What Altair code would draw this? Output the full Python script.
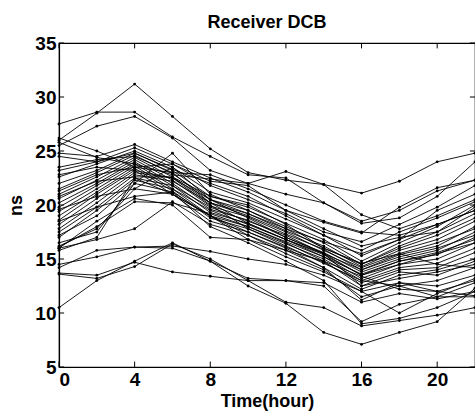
import altair as alt
import pandas as pd

hours = [0, 2, 4, 6, 8, 10, 12, 14, 16, 18, 20, 22]
x_ticks = [0, 4, 8, 12, 16, 20]
y_ticks = [5, 10, 15, 20, 25, 30, 35]

s01 = [26.0, 28.5, 31.2, 28.2, 25.2, 23.0, 22.3, 21.9, 21.1, 22.2, 24.0, 24.8]
s02 = [27.5, 28.6, 28.6, 26.3, 24.5, 22.8, 22.5, 20.2, 18.5, 19.5, 21.3, 22.3]
s03 = [25.5, 27.3, 28.2, 26.2, 23.2, 22.0, 21.0, 20.2, 18.3, 18.8, 20.8, 24.0]
s04 = [25.8, 24.4, 23.8, 22.8, 22.4, 22.0, 23.1, 21.9, 19.1, 17.8, 19.0, 20.5]
s05 = [26.2, 25.0, 23.5, 23.0, 22.8, 21.5, 20.0, 18.5, 17.5, 17.2, 18.2, 19.5]
s06 = [24.8, 24.5, 25.6, 24.0, 22.5, 21.2, 19.5, 18.4, 17.4, 19.8, 21.6, 22.3]
s07 = [23.2, 24.0, 25.3, 23.8, 21.8, 20.5, 19.2, 17.5, 16.6, 18.2, 19.8, 21.8]
s08 = [22.6, 23.8, 25.0, 23.5, 21.2, 20.2, 18.7, 17.2, 15.3, 16.8, 19.5, 21.0]
s09 = [22.0, 23.2, 24.8, 23.2, 20.8, 19.8, 18.3, 16.8, 14.8, 16.5, 18.0, 20.0]
s10 = [21.5, 23.0, 24.6, 22.9, 20.5, 19.5, 18.0, 16.5, 14.5, 16.2, 17.5, 19.2]
s11 = [21.0, 22.6, 24.4, 22.6, 20.2, 19.2, 17.6, 16.2, 14.3, 15.8, 16.8, 18.5]
s12 = [20.6, 22.3, 24.2, 22.3, 19.9, 18.9, 17.3, 15.9, 14.0, 15.4, 16.2, 18.0]
s13 = [20.2, 22.0, 24.0, 22.0, 19.6, 18.6, 17.0, 15.6, 13.8, 15.0, 15.8, 17.5]
s14 = [19.8, 21.8, 23.8, 21.8, 19.3, 18.3, 16.8, 15.4, 13.5, 14.8, 15.4, 17.0]
s15 = [19.4, 21.5, 23.6, 21.5, 19.0, 18.0, 16.6, 15.2, 13.2, 14.5, 15.0, 16.5]
s16 = [19.0, 21.2, 23.4, 21.3, 18.8, 17.8, 16.4, 15.0, 13.0, 14.2, 14.6, 16.0]
s17 = [18.6, 21.0, 23.2, 21.0, 18.5, 17.5, 16.1, 14.7, 12.8, 14.0, 14.2, 15.6]
s18 = [18.2, 20.6, 23.0, 22.5, 20.5, 19.2, 17.8, 16.0, 14.5, 16.0, 17.2, 18.8]
s19 = [17.8, 20.2, 22.8, 22.2, 20.2, 19.0, 17.5, 15.8, 14.2, 15.5, 16.5, 17.8]
s20 = [17.5, 19.8, 22.5, 21.8, 19.8, 18.5, 17.2, 15.5, 14.0, 15.2, 16.0, 17.2]
s21 = [17.0, 19.5, 22.3, 21.5, 19.5, 18.2, 16.8, 15.2, 13.6, 14.8, 15.6, 16.8]
s22 = [16.5, 17.5, 22.0, 24.8, 21.0, 19.5, 17.8, 16.6, 15.5, 16.8, 18.2, 19.5]
s23 = [16.2, 17.8, 21.5, 23.5, 20.5, 18.8, 17.0, 15.5, 13.5, 14.5, 15.5, 16.5]
s24 = [16.0, 18.5, 20.6, 20.0, 17.0, 16.8, 15.8, 14.2, 12.2, 13.5, 14.0, 15.0]
s25 = [16.1, 18.0, 20.3, 20.2, 19.2, 18.0, 16.5, 14.8, 12.5, 13.8, 13.5, 14.8]
s26 = [16.0, 16.8, 17.8, 20.3, 18.2, 17.2, 15.5, 14.0, 11.5, 12.5, 13.0, 14.2]
s27 = [15.8, 17.0, 22.5, 21.0, 19.0, 17.5, 16.0, 14.2, 11.2, 12.8, 12.5, 13.5]
s28 = [14.5, 15.2, 16.1, 16.2, 15.7, 15.0, 14.5, 13.5, 12.0, 12.8, 12.0, 13.0]
s29 = [14.2, 15.8, 16.1, 16.0, 14.8, 13.2, 13.0, 12.8, 11.0, 11.8, 11.3, 12.0]
s30 = [13.7, 13.5, 14.7, 13.8, 13.4, 13.0, 13.0, 12.5, 9.2, 10.8, 11.5, 11.5]
s31 = [13.6, 13.2, 14.3, 16.4, 15.0, 13.0, 11.0, 10.5, 8.8, 9.3, 9.8, 10.5]
s32 = [10.5, 13.0, 14.8, 16.5, 14.8, 12.5, 10.9, 8.2, 7.1, 8.2, 9.2, 12.3]
s33 = [23.5, 24.2, 24.5, 23.0, 20.2, 18.3, 16.8, 15.5, 12.5, 13.2, 13.8, 14.5]
s34 = [22.8, 23.5, 23.2, 22.5, 20.0, 17.8, 16.2, 14.6, 13.0, 12.5, 11.5, 12.8]
s35 = [24.5, 24.0, 24.8, 23.3, 22.0, 20.8, 19.0, 17.2, 15.8, 17.5, 18.8, 20.3]
s36 = [21.3, 22.8, 23.5, 23.8, 22.2, 21.8, 19.5, 17.8, 16.2, 17.0, 17.5, 19.8]
s37 = [20.8, 22.2, 22.6, 22.6, 20.8, 20.0, 18.2, 16.0, 14.6, 15.5, 14.5, 14.2]
s38 = [19.6, 20.8, 21.5, 21.0, 19.0, 17.2, 15.8, 14.8, 13.4, 12.2, 12.0, 11.6]
s39 = [18.5, 19.8, 20.8, 21.2, 19.0, 16.8, 15.2, 13.8, 12.0, 10.0, 11.8, 13.2]
s40 = [17.2, 19.0, 22.0, 21.2, 18.0, 16.5, 14.8, 13.0, 9.0, 9.5, 10.5, 12.0]

all_series = [s01, s02, s03, s04, s05, s06, s07, s08, s09, s10,
              s11, s12, s13, s14, s15, s16, s17, s18, s19, s20,
              s21, s22, s23, s24, s25, s26, s27, s28, s29, s30,
              s31, s32, s33, s34, s35, s36, s37, s38, s39, s40]

rows = []
for i, s in enumerate(all_series):
    for h, v in zip(hours, s):
        rows.append({"series": f"r{i+1:02d}", "hour": h, "dcb": v})
df = pd.DataFrame(rows)

FONT = "Liberation Sans"
xscale = alt.Scale(domain=[0, 22], nice=False, zero=False)
yscale = alt.Scale(domain=[5, 35], nice=False, zero=False)

lines = alt.Chart(df).mark_line(color="black", strokeWidth=0.9).encode(
    x=alt.X("hour:Q", scale=xscale,
            axis=alt.Axis(values=x_ticks, title="Time(hour)", ticks=False,
                          labelPadding=3, titlePadding=3, grid=False)),
    y=alt.Y("dcb:Q", scale=yscale,
            axis=alt.Axis(values=y_ticks, title="ns", ticks=False,
                          labelPadding=3, titlePadding=9, grid=False)),
    detail="series:N",
)
points = alt.Chart(df).mark_point(filled=True, color="black", size=8, opacity=1).encode(
    x=alt.X("hour:Q", scale=xscale),
    y=alt.Y("dcb:Q", scale=yscale),
    detail="series:N",
)

xt = pd.DataFrame({"t": x_ticks})
yt = pd.DataFrame({"t": y_ticks})
tick_bottom = alt.Chart(xt).mark_rule(color="black", strokeWidth=1).encode(
    x=alt.X("t:Q", scale=xscale), y=alt.datum(5), y2=alt.datum(5.5))
tick_top = alt.Chart(xt).mark_rule(color="black", strokeWidth=1).encode(
    x=alt.X("t:Q", scale=xscale), y=alt.datum(35), y2=alt.datum(34.5))
tick_left = alt.Chart(yt).mark_rule(color="black", strokeWidth=1).encode(
    y=alt.Y("t:Q", scale=yscale), x=alt.datum(0), x2=alt.datum(0.27))
tick_right = alt.Chart(yt).mark_rule(color="black", strokeWidth=1).encode(
    y=alt.Y("t:Q", scale=yscale), x=alt.datum(22), x2=alt.datum(21.73))

chart = alt.layer(lines, points, tick_bottom, tick_top, tick_left, tick_right).properties(
    width=416, height=324,
    background="white",
    title=alt.TitleParams("Receiver DCB"),
    autosize=alt.AutoSizeParams(type="none"),
    padding={"left": 59, "top": 43, "right": 0, "bottom": 51},
).configure_view(stroke="black", strokeWidth=1.2).configure_axis(
    labelFont=FONT, labelFontSize=19, labelFontWeight="bold", labelColor="black",
    titleFont=FONT, titleFontSize=18, titleFontWeight="bold", titleColor="black",
    domainColor="black", domainWidth=1.2,
).configure_title(
    font=FONT, fontSize=18, fontWeight="bold", color="black", offset=2, anchor="middle"
)

chart.save("out.html", embed_options={"renderer": "svg", "actions": False})
